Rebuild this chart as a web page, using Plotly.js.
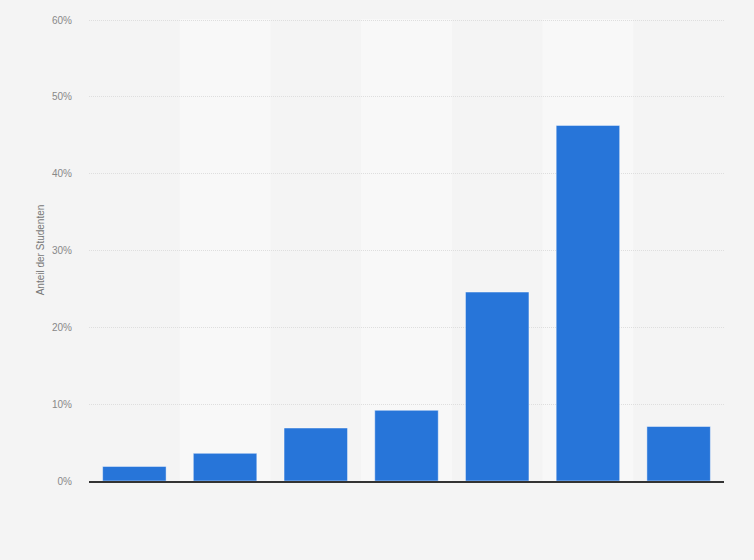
<!DOCTYPE html>
<html>
<head>
<meta charset="utf-8">
<script src="https://cdn.plot.ly/plotly-3.0.1.min.js"></script>
<style>
  html, body { margin: 0; padding: 0; background: #f4f4f4; }
  #chart { width: 754px; height: 560px; }
</style>
</head>
<body>
<div id="chart"></div>
<script>
// values (share in percent), x labels are not shown
const categories = ['K1', 'K2', 'K3', 'K4', 'K5', 'K6', 'K7'];
const shares = [1.9, 3.6, 6.9, 9.2, 24.6, 46.3, 7.1];
const yTickVals = [0, 10, 20, 30, 40, 50, 60];
const yTickText = ['0%', '10%', '20%', '30%', '40%', '50%', '60%'];

// lighter band behind every second category
const bands = [];
for (let i = 1; i < categories.length; i += 2) {
    bands.push({
        type: 'rect', layer: 'below',
        xref: 'x', yref: 'paper',
        x0: i - 0.5, x1: i + 0.5, y0: 0, y1: 1,
        fillcolor: '#f8f8f8', line: { width: 0 }
    });
}

const barTrace = {
    x: categories,
    y: shares,
    type: 'bar',
    marker: { color: '#2775d9', line: { color: 'rgba(255,255,255,0.45)', width: 1 } },
    hoverinfo: 'y'
};

const layout = {
    width: 754,
    height: 560,
    paper_bgcolor: '#f4f4f4',
    plot_bgcolor: '#f4f4f4',
    font: { family: '"Liberation Sans", Arial, sans-serif', size: 10, color: '#888' },
    margin: { t: 19, b: 79, l: 89, r: 30 },
    bargap: 0.3,
    showlegend: false,
    shapes: bands,
    xaxis: {
        showticklabels: false,
        showgrid: false,
        zeroline: false,
        showline: true,
        linecolor: '#333',
        linewidth: 1.5,
        ticks: ''
    },
    yaxis: {
        range: [0, 60.15],
        tickvals: yTickVals,
        ticktext: yTickText,
        showgrid: true,
        gridcolor: '#dedede',
        griddash: '1px,1px',
        gridwidth: 1,
        zeroline: false,
        ticks: '',
        ticklabelstandoff: 16,
        tickfont: { size: 10, color: '#888' },
        title: { text: 'Anteil der Studenten', font: { size: 10, color: '#777' }, standoff: 5 }
    }
};

Plotly.newPlot('chart', [barTrace], layout, { displayModeBar: false, staticPlot: true });
</script>
</body>
</html>
